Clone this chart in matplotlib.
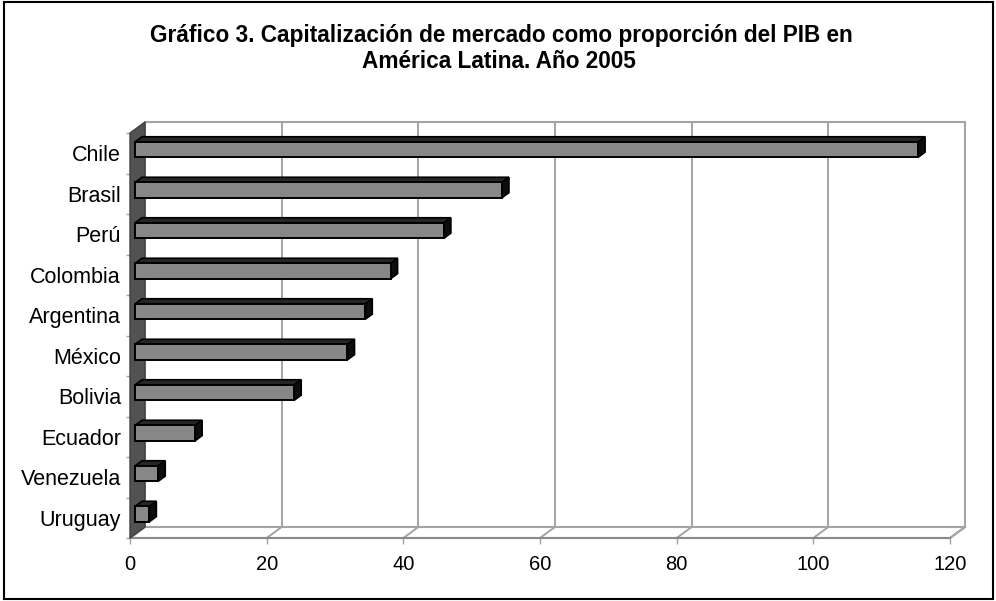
import numpy as np
import matplotlib.pyplot as plt
from matplotlib.patches import Polygon, Rectangle

plt.rcParams['font.family'] = ['Liberation Sans', 'DejaVu Sans']

# capitalización bursátil / PIB, 2005 (de abajo hacia arriba)
paises = ['Uruguay', 'Venezuela', 'Ecuador', 'Bolivia', 'México',
          'Argentina', 'Colombia', 'Perú', 'Brasil', 'Chile']
valores = [2.1, 3.4, 8.8, 23.3, 31.1, 33.7, 37.4, 45.2, 53.7, 114.6]
xticks = [0, 20, 40, 60, 80, 100, 120]

W, H = 996, 601
fig = plt.figure(figsize=(W / 100, H / 100), dpi=100)
ax = fig.add_axes([130 / W, 63 / H, 820 / W, 405 / H])
ax.set_xlim(0, 120)
ax.set_ylim(-0.5, 9.5)
for s in ax.spines.values():
    s.set_visible(False)

# fake 3d depth (in data units)
DX = 15 / (820 / 120)
DY = 11 / 40.5
n = len(paises)
y0, y1 = -0.5, n - 0.5
grid_c = '#a3a3a3'

# back wall, floor and left wall
ax.add_patch(Rectangle((DX, y0 + DY), 120, n, facecolor='white',
                       edgecolor=grid_c, lw=1.5, zorder=1, clip_on=False))
ax.add_patch(Polygon([(0, y0), (120, y0), (120 + DX, y0 + DY), (DX, y0 + DY)],
                     closed=True, facecolor='white', edgecolor=grid_c, lw=1.5,
                     zorder=1, clip_on=False))
ax.add_patch(Polygon([(0, y0), (0, y1), (DX, y1 + DY), (DX, y0 + DY)],
                     closed=True, facecolor='#525252', edgecolor='#404040', lw=1,
                     zorder=2, clip_on=False))
for v in xticks[1:]:
    ax.plot([v + DX, v + DX], [y0 + DY, y1 + DY], color=grid_c, lw=1.4,
            zorder=1.5, clip_on=False)
    ax.plot([v, v + DX], [y0, y0 + DY], color=grid_c, lw=1.4,
            zorder=1.5, clip_on=False)
ax.plot([0, 120], [y0, y0], color='#8a8a8a', lw=1.5, zorder=1.6, clip_on=False)

# 3d bars
d0, d1 = 0.33, 0.8
h = 0.38
for i, v in enumerate(valores):
    xs = d0 * DX
    yc = i + d0 * DY
    bot, top = yc - h / 2, yc + h / 2
    ox, oy = (d1 - d0) * DX, (d1 - d0) * DY
    ax.add_patch(Polygon([(xs, top), (xs + v, top), (xs + v + ox, top + oy),
                          (xs + ox, top + oy)], closed=True,
                         facecolor='#262626', edgecolor='black', lw=1.2, zorder=3))
    ax.add_patch(Polygon([(xs + v, bot), (xs + v, top), (xs + v + ox, top + oy),
                          (xs + v + ox, bot + oy)], closed=True,
                         facecolor='#0d0d0d', edgecolor='black', lw=1.2, zorder=3))
    ax.barh(i + d0 * DY, v, height=h, left=xs, color='#878787',
            edgecolor='black', linewidth=1.4, zorder=4)

# axes ticks and labels
ax.set_yticks(range(n))
ax.set_yticklabels(paises, fontsize=15.5)
ax.set_yticks(np.arange(n + 1) - 0.5, minor=True)
ax.tick_params(axis='y', which='major', length=0, pad=6.5)
ax.tick_params(axis='y', which='minor', length=3, color=grid_c, width=1)
ax.set_xticks(xticks)
ax.set_xticklabels([str(t) for t in xticks], fontsize=14.5)
ax.tick_params(axis='x', length=4, color=grid_c, width=1, pad=8)

fig.text(0.503, 1 - 41.7 / H,
         'Gráfico 3. Capitalización de mercado como proporción del PIB en',
         ha='center', va='baseline', fontsize=16.3, fontweight='bold')
fig.text(0.501, 1 - 67.7 / H, 'América Latina. Año 2005',
         ha='center', va='baseline', fontsize=16.3, fontweight='bold')

# outer frame
fig.patches.append(Rectangle((4 / W, 2 / H), 989 / W, 597 / H,
                             transform=fig.transFigure, fill=False,
                             edgecolor='black', lw=1.5))

fig.savefig('out.png', dpi=100)
